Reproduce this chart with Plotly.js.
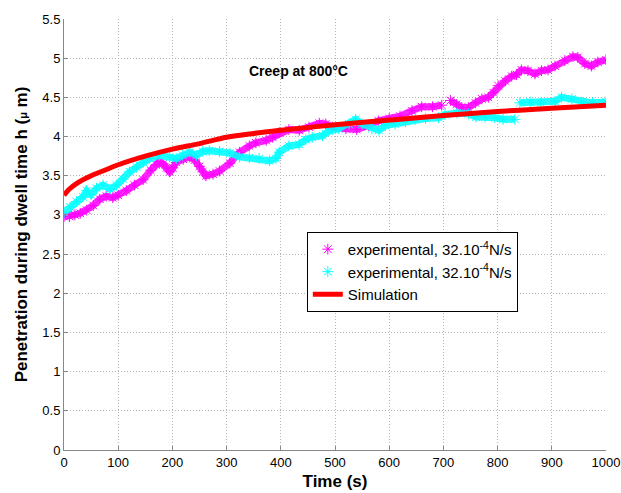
<!DOCTYPE html>
<html>
<head>
<meta charset="utf-8">
<script src="https://cdn.plot.ly/plotly-3.0.1.min.js"></script>
<style>html,body{margin:0;padding:0;background:#fff;}#chart{width:621px;height:493px;}</style>
</head>
<body>
<div id="chart"></div>
<script>
// Experimental series 1 (magenta)
var exp1Time = [0,10,20,30,42,54,66,78,90,100,115,130,146,160,170,176,183,189,195,201,207,220,232,241,250,256,262,275,287,306,324,342,354,373,385,397,415,434,452,471,483,495,520,540,562,580,600,620,642,660,680,697,705,713,724,734,746,759,771,783,792,801,814,826,835,844,856,869,881,893,906,924,939,948,961,973,985,1000];
var exp1H    = [2.98,2.98,3.0,3.02,3.06,3.12,3.2,3.24,3.22,3.25,3.31,3.38,3.45,3.57,3.64,3.68,3.65,3.6,3.55,3.6,3.67,3.71,3.74,3.7,3.62,3.55,3.5,3.52,3.56,3.66,3.8,3.88,3.92,3.95,3.99,4.05,4.09,4.08,4.12,4.17,4.16,4.12,4.1,4.09,4.14,4.2,4.23,4.26,4.33,4.38,4.38,4.4,null,4.46,4.41,4.37,4.37,4.43,4.48,4.5,4.56,4.65,4.71,4.77,4.79,4.85,4.84,4.8,4.84,4.85,4.9,4.97,5.02,5.01,4.93,4.9,4.95,4.98];
// Experimental series 2 (cyan)
var exp2Time = [0,11,23,35,42,50,60,72,85,97,109,121,134,146,158,176,195,207,219,232,244,256,268,287,306,324,342,360,379,391,397,415,434,446,458,477,489,507,526,538,550,568,581,593,611,630,648,667,691,703,725,746,760,777,795,810,832,836,841,860,880,906,918,937,955,975,1000];
var exp2H    = [3.03,3.1,3.17,3.23,3.31,3.26,3.34,3.38,3.33,3.38,3.46,3.55,3.61,3.67,3.72,3.76,3.74,3.72,3.76,3.8,3.76,3.81,3.82,3.81,3.79,3.74,3.73,3.72,3.69,3.72,3.8,3.88,3.9,3.96,3.99,4.01,4.07,4.1,4.16,4.22,4.16,4.1,4.08,4.14,4.16,4.19,4.22,4.23,4.24,4.28,4.3,4.29,4.25,4.25,4.24,4.22,4.22,null,4.43,4.44,4.43,4.45,4.5,4.48,4.44,4.43,4.44];
// Simulation (red)
var simTime = [0,10,25,50,75,100,150,200,250,300,350,400,500,600,700,800,900,1000];
var simH    = [3.25,3.33,3.41,3.5,3.57,3.64,3.75,3.84,3.91,3.99,4.04,4.08,4.15,4.21,4.27,4.32,4.36,4.40];

var xTicks = [0,100,200,300,400,500,600,700,800,900,1000];
var yTicks = [0,0.5,1,1.5,2,2.5,3,3.5,4,4.5,5,5.5];
var legendLabel = 'experimental, 32.10<sup>-4</sup>N/s';

var FONT = 'Liberation Sans, Arial, Helvetica, sans-serif';
var MAG = '#ff00ff', CYA = '#00ffff', RED = '#ff0000';

var traces = [
  {x: exp1Time, y: exp1H, mode: 'lines', line: {color: MAG, width: 7}, opacity: 0.85, showlegend: false, hoverinfo: 'skip', connectgaps: false},
  {x: exp1Time, y: exp1H, mode: 'markers', name: legendLabel,
   marker: {symbol: 'asterisk-open', size: 9, color: MAG, line: {color: MAG, width: 1}}},
  {x: exp2Time, y: exp2H, mode: 'lines', line: {color: CYA, width: 7}, opacity: 0.85, showlegend: false, hoverinfo: 'skip', connectgaps: false},
  {x: exp2Time, y: exp2H, mode: 'markers', name: legendLabel,
   marker: {symbol: 'asterisk-open', size: 9, color: CYA, line: {color: CYA, width: 1}}},
  {x: simTime, y: simH, mode: 'lines', name: 'Simulation', line: {color: RED, width: 5, shape: 'spline'}}
];

var layout = {
  width: 621, height: 493,
  margin: {l: 64, r: 15, t: 19, b: 43},
  paper_bgcolor: '#fff', plot_bgcolor: '#fff',
  font: {family: FONT, size: 13, color: '#000'},
  showlegend: true,
  legend: {x: 0.448, y: 0.506, xanchor: 'left', yanchor: 'top',
    bgcolor: '#fff', bordercolor: '#000', borderwidth: 1,
    font: {family: FONT, size: 15, color: '#000'}, tracegroupgap: 0},
  xaxis: {
    range: [0, 1000], tickvals: xTicks, ticktext: xTicks.map(String),
    showgrid: true, gridcolor: '#b4b4b4', griddash: '1px,2px', gridwidth: 1,
    zeroline: false, showline: true, linecolor: '#888', linewidth: 1,
    ticks: 'inside', ticklen: 4, tickcolor: '#888', ticklabeloverflow: 'allow',
    tickfont: {family: FONT, size: 13, color: '#000'},
    title: {text: '<b>Time (s)</b>', font: {family: FONT, size: 17, color: '#000'}, standoff: 6}
  },
  yaxis: {
    range: [0, 5.5], tickvals: yTicks, ticktext: yTicks.map(String),
    showgrid: true, gridcolor: '#b4b4b4', griddash: '1px,2px', gridwidth: 1,
    zeroline: false, showline: true, linecolor: '#888', linewidth: 1,
    ticks: 'inside', ticklen: 4, tickcolor: '#888',
    tickfont: {family: FONT, size: 13, color: '#000'},
    title: {text: '<b>Penetration during dwell time h (<span style="font-size:11px">μ</span> m)</b>', font: {family: FONT, size: 17, color: '#000'}, standoff: 10}
  },
  annotations: [{
    x: 432, y: 4.84, xref: 'x', yref: 'y', showarrow: false,
    text: '<b>Creep at 800°C</b>', font: {family: FONT, size: 14, color: '#000'}
  }]
};

Plotly.newPlot('chart', traces, layout, {displayModeBar: false, staticPlot: true});
</script>
</body>
</html>
